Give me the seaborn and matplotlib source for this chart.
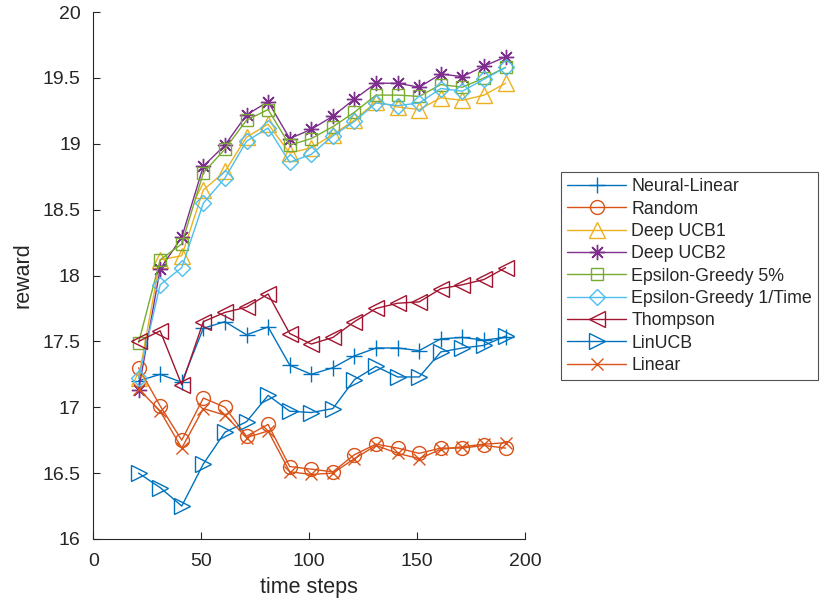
import numpy as np
import pandas as pd
import matplotlib
matplotlib.use("Agg")
import matplotlib.pyplot as plt
import seaborn as sns

steps = list(range(21, 192, 10))

neural_linear = [17.20, 17.25, 17.19, 17.60, 17.65, 17.55, 17.61, 17.32, 17.25,
                 17.30, 17.39, 17.45, 17.45, 17.43, 17.52, 17.53, 17.51, 17.53]
random_r = [17.30, 17.01, 16.75, 17.07, 17.00, 16.78, 16.87, 16.55, 16.53,
            16.51, 16.64, 16.72, 16.69, 16.65, 16.69, 16.69, 16.71, 16.69]
deep_ucb1 = [17.22, 18.12, 18.15, 18.65, 18.79, 19.05, 19.15, 18.93, 18.97,
             19.07, 19.18, 19.32, 19.28, 19.26, 19.35, 19.33, 19.37, 19.46]
deep_ucb2 = [17.13, 18.05, 18.29, 18.83, 18.99, 19.22, 19.32, 19.04, 19.11,
             19.21, 19.34, 19.46, 19.46, 19.43, 19.53, 19.51, 19.59, 19.66]
eps_5 = [17.49, 18.12, 18.24, 18.78, 18.96, 19.18, 19.26, 18.99, 19.04,
         19.13, 19.24, 19.37, 19.37, 19.36, 19.45, 19.43, 19.50, 19.58]
eps_time = [17.22, 17.93, 18.06, 18.55, 18.74, 19.02, 19.12, 18.86, 18.92,
            19.06, 19.17, 19.31, 19.29, 19.31, 19.42, 19.40, 19.49, 19.58]
thompson = [17.50, 17.58, 17.17, 17.65, 17.72, 17.76, 17.86, 17.56, 17.48,
            17.53, 17.65, 17.75, 17.79, 17.80, 17.90, 17.93, 17.97, 18.06]
linucb = [16.50, 16.39, 16.25, 16.57, 16.81, 16.89, 17.09, 16.97, 16.96,
          16.99, 17.21, 17.31, 17.23, 17.23, 17.42, 17.45, 17.47, 17.54]
linear = [17.14, 16.97, 16.69, 16.99, 16.94, 16.77, 16.82, 16.51, 16.49,
          16.50, 16.61, 16.71, 16.65, 16.61, 16.68, 16.70, 16.72, 16.73]

names = ["Neural-Linear", "Random", "Deep UCB1", "Deep UCB2", "Epsilon-Greedy 5%",
         "Epsilon-Greedy 1/Time", "Thompson", "LinUCB", "Linear"]
series = [neural_linear, random_r, deep_ucb1, deep_ucb2, eps_5, eps_time,
          thompson, linucb, linear]
markers = ["+", "o", "^", (8, 2, 0), "s", "D", "<", ">", "x"]
colors = ["#0072BD", "#D95319", "#EDB120", "#7E2F8E", "#77AC30", "#4DBEEE",
          "#A2142F", "#0072BD", "#D95319"]
msizes = [11, 10, 11, 11, 9, 8, 11, 11, 8]

sns.set_style("white")
plt.rcParams['font.family'] = ['Liberation Sans', 'DejaVu Sans']

fig = plt.figure(figsize=(8.4, 6.06), dpi=100)
ax = fig.add_axes([0.111, 0.1106, 0.514, 0.8694])

for name, vals, m, c, ms in zip(names, series, markers, colors, msizes):
    sns.lineplot(x=steps, y=vals, ax=ax, label=name, color=c, marker=m,
                 markersize=ms, markerfacecolor='none', markeredgecolor=c,
                 markeredgewidth=1.0, linewidth=1.0)

ax.set_xlim(0, 200)
ax.set_ylim(16, 20)
ax.set_xticks([0, 50, 100, 150, 200])
ax.set_yticks([16, 16.5, 17, 17.5, 18, 18.5, 19, 19.5, 20])
ax.set_yticklabels(["16", "16.5", "17", "17.5", "18", "18.5", "19", "19.5", "20"])
ax.tick_params(direction='in', length=5, width=0.8, labelsize=14, colors='#262626')
ax.tick_params(axis='x', pad=10)
ax.tick_params(axis='y', pad=9)
ax.tick_params(left=True, bottom=True)
for s in ['top', 'right']:
    ax.spines[s].set_visible(False)
for s in ['left', 'bottom']:
    ax.spines[s].set_color('#262626')
    ax.spines[s].set_linewidth(0.8)
ax.set_xlabel("time steps", fontsize=15.5, color='#262626', labelpad=5)
ax.set_ylabel("reward", fontsize=15.5, color='#262626', labelpad=7)

leg = ax.legend(loc='upper left', bbox_to_anchor=(0.668, 0.716), bbox_transform=fig.transFigure,
                fontsize=12.8, handlelength=3.3, frameon=True, fancybox=False,
                borderpad=0.35, labelspacing=0.3, handletextpad=0.3, borderaxespad=0)
leg.get_frame().set_edgecolor('#262626')
leg.get_frame().set_linewidth(0.8)

fig.savefig("out.png", dpi=100)
